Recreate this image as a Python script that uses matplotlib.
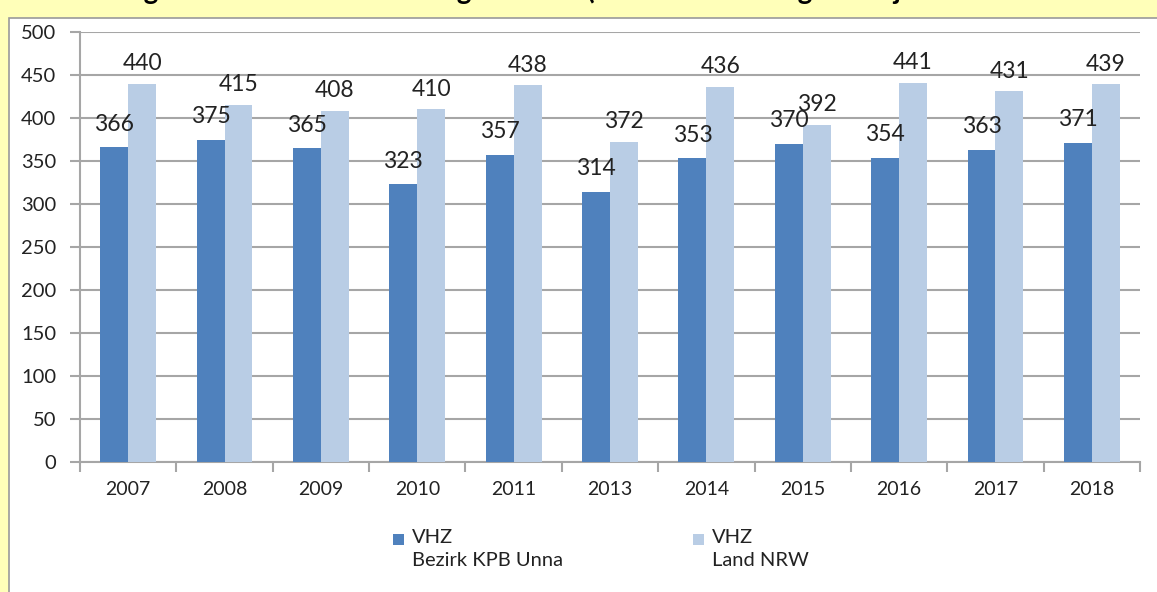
import numpy as np
import matplotlib.pyplot as plt
from matplotlib.patches import Rectangle

years = ['2007', '2008', '2009', '2010', '2011', '2013', '2014', '2015', '2016', '2017', '2018']
vhz_unna = [366, 375, 365, 323, 357, 314, 353, 370, 354, 363, 371]
vhz_nrw = [440, 415, 408, 410, 438, 372, 436, 392, 441, 431, 439]
legend_labels = ['VHZ\nBezirk KPB Unna', 'VHZ\nLand NRW']

dark = '#4F81BD'
light = '#B9CDE5'
grid_col = '#A6A6A6'
text_col = '#222222'
plt.rcParams['font.family'] = ['Lato', 'DejaVu Sans']

W, H = 1157, 592
fig = plt.figure(figsize=(W / 100, H / 100), dpi=100)
fig.patch.set_facecolor('#FFFFB9')

# white panel on the yellow page
panel = Rectangle((9 / W, -0.01), 1.1, 1 - 18 / H + 0.01, transform=fig.transFigure,
                  facecolor='white', edgecolor='#9A9A9A', linewidth=1.2, zorder=-5)
fig.patches.append(panel)

# cut-off heading above the chart (only descenders are visible)
fig.text(0.005, 1 + 1 / H, 'Entwicklung der Verkehrsunfallhäufigkeitszahl (Verkehrsunfälle gesamt je 100.000 Einwohner)',
         fontsize=20, fontweight='bold', color='black', va='baseline', ha='left')

ax = fig.add_axes([80 / W, 1 - 462 / H, 1060 / W, 430 / H])
ax.set_facecolor('none')

x = np.arange(len(years))
w = 0.29
ax.bar(x - w / 2, vhz_unna, w, color=dark, zorder=3)
ax.bar(x + w / 2, vhz_nrw, w, color=light, zorder=3)

for i in range(len(years)):
    ax.annotate(str(vhz_unna[i]), (x[i] - w / 2, vhz_unna[i]), xytext=(0, 9),
                textcoords='offset points', ha='center', va='bottom', fontsize=16.5, color=text_col)
    ax.annotate(str(vhz_nrw[i]), (x[i] + w / 2, vhz_nrw[i]), xytext=(0, 7),
                textcoords='offset points', ha='center', va='bottom', fontsize=16.5, color=text_col)

ax.set_xlim(-0.5, len(years) - 0.5)
ax.set_ylim(0, 500)
ax.set_yticks(np.arange(0, 501, 50))
ax.yaxis.grid(True, color=grid_col, linewidth=1.5, zorder=0)
ax.set_axisbelow(True)

ax.set_xticks(x)
ax.set_xticklabels(years)
ax.set_xticks(np.arange(-0.5, len(years), 1), minor=True)
ax.tick_params(axis='x', which='major', length=0, pad=14, labelsize=14, labelcolor=text_col)
ax.tick_params(axis='x', which='minor', length=7, color=grid_col, width=1.5)
ax.tick_params(axis='y', length=7, color=grid_col, width=1.5, pad=10, labelsize=14.5, labelcolor=text_col)

for s in ['top', 'right']:
    ax.spines[s].set_visible(False)
for s in ['left', 'bottom']:
    ax.spines[s].set_color(grid_col)
    ax.spines[s].set_linewidth(1.5)

# legend: square next to the first line of a two-line label
for (sx, tx), col, lab in zip([(393, 412), (693, 712)], [dark, light], legend_labels):
    fig.patches.append(Rectangle((sx / W, 1 - 545 / H), 11 / W, 11 / H,
                                 transform=fig.transFigure, facecolor=col, edgecolor='none'))
    fig.text(tx / W, 1 - 529 / H, lab, fontsize=14.5, color=text_col, va='top', ha='left',
             linespacing=1.4)

fig.savefig('out.png', dpi=100, facecolor=fig.get_facecolor())
